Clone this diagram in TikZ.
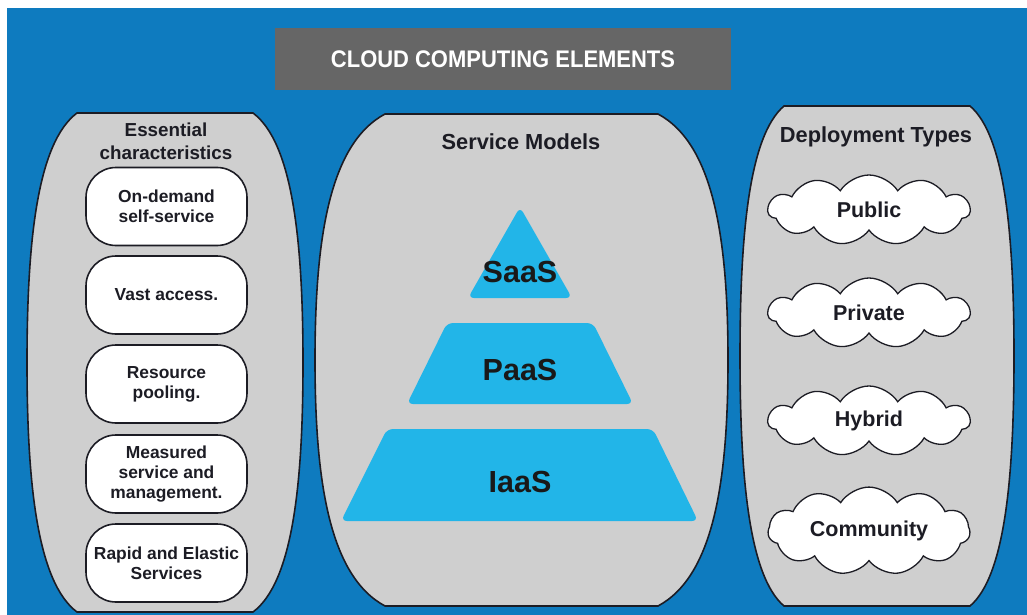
\documentclass[tikz,border=0pt]{standalone}
\usepackage{fontspec}
\setmainfont{Liberation Sans}
\newfontfamily\narrowsans[FakeStretch=0.915]{Liberation Sans}
\usetikzlibrary{shapes.symbols}

\definecolor{bgblue}{RGB}{14,123,191}
\definecolor{panelgray}{RGB}{207,207,207}
\definecolor{titlegray}{RGB}{102,102,102}
\definecolor{pyrblue}{RGB}{34,181,232}
\definecolor{inkdark}{RGB}{28,28,36}

\tikzset{
  panel/.style={draw=inkdark, line width=1.6pt, fill=panelgray},
  pill/.style={draw=inkdark, line width=1.6pt, fill=white, rounded corners=30pt,
    minimum width=161pt, minimum height=78pt, align=center, text=inkdark,
    font=\bfseries\fontsize{17.4}{20}\selectfont},
  puff/.style={cloud, cloud puffs=11, cloud puff arc=115, aspect=2.8,
    draw=inkdark, line width=1.3pt, fill=white, minimum width=202pt,
    minimum height=70pt, text=inkdark, font=\bfseries\fontsize{21.5}{24}\selectfont},
  tier/.style={fill=pyrblue, rounded corners=6pt},
  tierlabel/.style={text=black!90, font=\bfseries\fontsize{30.5}{34}\selectfont},
  heading/.style={text=inkdark, align=center, font=\bfseries\fontsize{21.8}{25}\selectfont},
}

% barrel shaped column: left, right, top, bottom, inset of the flat ends
\newcommand{\barrel}[5]{%
  \draw[panel] ({#1+#5},#3) -- ({#2-#5},#3)
    .. controls +(0.8*#5,30) and +(0,-120) .. (#2,{(#3+#4)/2})
    .. controls +(0,120) and +(0.8*#5,-30) .. ({#2-#5},#4)
    -- ({#1+#5},#4)
    .. controls +(-0.8*#5,-30) and +(0,120) .. (#1,{(#3+#4)/2})
    .. controls +(0,-120) and +(-0.8*#5,30) .. ({#1+#5},#3) -- cycle;}

\begin{document}
\begin{tikzpicture}[x=1pt, y=-1pt]
  \useasboundingbox (0,0) rectangle (1027,615);
  \fill[white] (0,0) rectangle (1027,615);
  \fill[bgblue] (7,8) rectangle (1027,615);

  \node[fill=titlegray, minimum width=456pt, minimum height=62pt, text=white,
    font=\narrowsans\bfseries\fontsize{24}{26}\selectfont] (title) at (503,59) {CLOUD COMPUTING ELEMENTS};

  \barrel{27}{303}{113}{612}{50}
  \barrel{315}{728}{114}{606}{70}
  \barrel{740}{1014}{106}{606}{44}

  % essential characteristics
  \node[heading, font=\bfseries\fontsize{18.8}{23}\selectfont] (ess) at (166,141) {Essential\\characteristics};
  \node[pill] (ondemand) at (166.5,206.5) {On-demand\\self-service};
  \node[pill] (access) at (166.5,295) {Vast access.};
  \node[pill] (pooling) at (166.5,384) {Resource\\pooling.};
  \node[pill] (measured) at (166.5,474) {Measured\\service and\\management.};
  \node[pill] (rapid) at (166.5,563) {Rapid and Elastic\\Services};

  % service models
  \node[heading] (models) at (521,142) {Service Models};
  \fill[tier] (520,207) -- (572,298) -- (468,298) -- cycle;
  \fill[tier] (447,323) -- (593,323) -- (633,404) -- (407,404) -- cycle;
  \fill[tier] (387,429) -- (653,429) -- (698,521) -- (341,521) -- cycle;
  \node[tierlabel] (saas) at (520,272) {SaaS};
  \node[tierlabel] (paas) at (520,370) {PaaS};
  \node[tierlabel] (iaas) at (520,482) {IaaS};

  % deployment types
  \node[heading] (deploy) at (876,137) {Deployment Types};
  \node[puff] (public) at (869,210) {Public};
  \node[puff] (private) at (869,313) {Private};
  \node[puff] (hybrid) at (869,421) {Hybrid};
  \node[puff] (community) at (869,531) {Community};
\end{tikzpicture}
\end{document}
